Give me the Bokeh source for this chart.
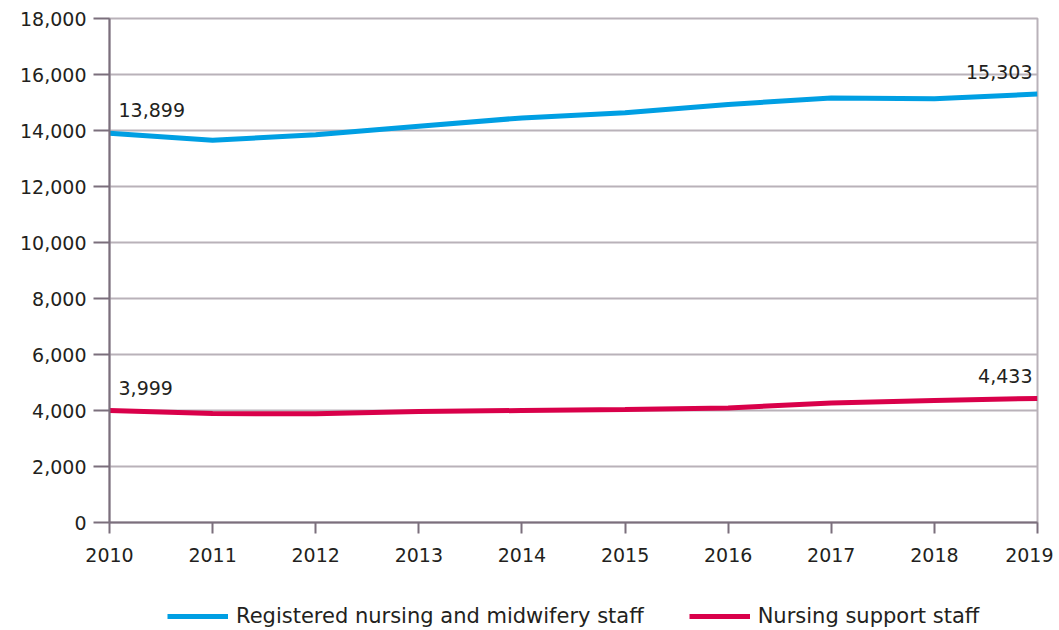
from bokeh.plotting import figure
from bokeh.layouts import column
from bokeh.models import ColumnDataSource, Legend, LegendItem, NumeralTickFormatter, FixedTicker, Range1d
from bokeh.core.properties import value
from bokeh.embed import file_html
from bokeh.resources import INLINE

years = [2010, 2011, 2012, 2013, 2014, 2015, 2016, 2017, 2018, 2019]
registered = [13899, 13650, 13846, 14150, 14450, 14635, 14930, 15160, 15130, 15303]
support = [3999, 3890, 3880, 3964, 4000, 4036, 4093, 4265, 4360, 4433]
series_names = ["Registered nursing and midwifery staff", "Nursing support staff"]
y_ticks = [0, 2000, 4000, 6000, 8000, 10000, 12000, 14000, 16000, 18000]

FONT = "DejaVu Sans"
TXT = "#231f20"
BLUE = "#009fe3"
RED = "#d9004a"
AXC = "#7b6f7c"
GRID = "#b9b2b9"
FS = "19px"

p = figure(width=1053, height=575, output_backend="svg", toolbar_location=None,
           x_range=Range1d(2010, 2019), y_range=Range1d(0, 18000),
           min_border_left=109, min_border_right=16, min_border_top=18, min_border_bottom=53)

src = ColumnDataSource(dict(x=years, reg=registered, sup=support))
p.line("x", "reg", source=src, color=BLUE, line_width=5)
p.line("x", "sup", source=src, color=RED, line_width=5)

# end labels
left = ColumnDataSource(dict(x=[years[0], years[0]], y=[registered[0], support[0]],
                             t=[f"{registered[0]:,}", f"{support[0]:,}"]))
right = ColumnDataSource(dict(x=[years[-1], years[-1]], y=[registered[-1], support[-1]],
                              t=[f"{registered[-1]:,}", f"{support[-1]:,}"]))
p.text("x", "y", text="t", source=left, x_offset=9, y_offset=-23, text_font=value(FONT),
       text_font_size=FS, text_color=TXT, text_align="left", text_baseline="middle")
p.text("x", "y", text="t", source=right, x_offset=-5, y_offset=-22, text_font=value(FONT),
       text_font_size=FS, text_color=TXT, text_align="right", text_baseline="middle")

p.xaxis.ticker = FixedTicker(ticks=years)
p.yaxis.ticker = FixedTicker(ticks=y_ticks)
p.yaxis.formatter = NumeralTickFormatter(format="0,0")
for ax in (p.xaxis, p.yaxis):
    ax.axis_line_color = AXC
    ax.axis_line_width = 2
    ax.major_tick_line_color = AXC
    ax.major_tick_line_width = 2
    ax.minor_tick_line_color = None
    ax.major_tick_in = 0
    ax.major_label_text_font = FONT
    ax.major_label_text_font_size = FS
    ax.major_label_text_color = TXT
p.xaxis.major_tick_out = 11
p.xaxis.major_label_standoff = 14
p.yaxis.major_tick_out = 16
p.yaxis.major_label_standoff = 7

p.xgrid.grid_line_color = None
p.ygrid.grid_line_color = GRID
p.ygrid.grid_line_width = 2
p.outline_line_color = GRID
p.outline_line_width = 2

# legend strip below the chart (its frame is aligned with the chart's frame)
nan = float("nan")
lf = figure(width=1053, height=55, output_backend="svg", toolbar_location=None,
            x_range=Range1d(0, 1), y_range=Range1d(0, 1), min_border=0)
lf.axis.visible = False
lf.grid.visible = False
lf.outline_line_color = None
k1 = lf.line(x=[nan, nan], y=[nan, nan], color=BLUE, line_width=5)
k2 = lf.line(x=[nan, nan], y=[nan, nan], color=RED, line_width=5)
legend = Legend(items=[LegendItem(label=series_names[0], renderers=[k1]),
                       LegendItem(label=series_names[1], renderers=[k2])],
                orientation="horizontal", location=(58, 2), padding=0, margin=0,
                spacing=45, glyph_width=61, glyph_height=20, label_standoff=8,
                border_line_color=None, background_fill_alpha=0,
                label_text_font=FONT, label_text_font_size="21px", label_text_color=TXT)
lf.add_layout(legend)

open("out.html", "w").write(file_html(column(p, lf), INLINE))
